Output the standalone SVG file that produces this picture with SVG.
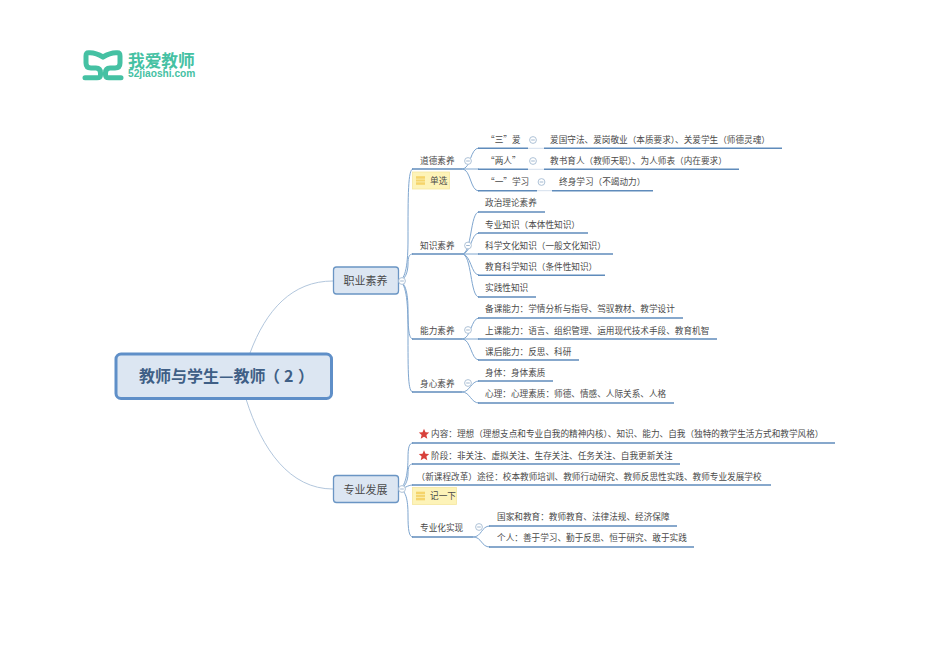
<svg xmlns="http://www.w3.org/2000/svg" width="950" height="672" viewBox="0 0 950 672">
<defs>
<g id="minus"><circle r="3.4" fill="#fff" stroke="#a5bbd3" stroke-width="0.9"/><path d="M-1.8 0H1.8" stroke="#8aa6c4" stroke-width="0.8"/></g>
<g id="noteicon"><rect x="-4.500" y="-4.300" width="9" height="8.600" fill="#f5d46a"/><path d="M-4.500 -1.400H4.500M-4.500 1.400H4.500" stroke="#fbeeb0" stroke-width="0.9"/></g>
<path id="star" d="M0-5.200 1.500-1.700 5.200-1.400 2.400 1 3.300 4.700 0 2.700-3.300 4.700-2.400 1-5.200-1.400-1.500-1.700Z" fill="#d8413b"/>
</defs>
<style>
text{font-family:"Noto Sans CJK SC","Liberation Sans",sans-serif;fill:#4a4a4a;font-size:8.650px;dominant-baseline:central;transform:translateY(-0.8px)}
.u{fill:none;stroke:#5f8bbb;stroke-width:1.500}
.b{fill:none;stroke:#7fa6cf;stroke-width:1}
.r{fill:none;stroke:#a9c0d8;stroke-width:0.900}
.p{fill:none;stroke:#c8d7e7;stroke-width:0.800}
.top{fill:#dce6f2;stroke:#6a95c4;stroke-width:1.300}
.note{fill:#fdf3b8;stroke:#f5e79e;stroke-width:0.800}
</style>
<rect width="950" height="672" fill="#fff"/>
<g id="logo">
<path d="M103 57C98 54 94 52.800 90 52.800H88.500C86.500 52.800 86 54 86 56V63C86 66.500 87.500 68 91 68H96C99.500 68 100.500 70 100.500 73V75C100.500 77 99.500 77.800 97 77.800H85M103 57C108 54 112 52.800 116 52.800H117.500C119.500 52.800 120 54 120 56V63C120 66.500 118.500 68 115 68H110C106.500 68 105.500 70 105.500 73V75C105.500 77 106.500 77.800 109 77.800H121" fill="none" stroke="#45c1a3" stroke-width="5" stroke-linecap="round" stroke-linejoin="round"/>
<text x="128" y="60.500" style="font-size:16.700px;font-weight:700;fill:#45c1a3">我爱教师</text>
<text x="128" y="74.800" style="font-family:'Liberation Sans',sans-serif;font-size:10.200px;font-weight:700;fill:#45c1a3">52jiaoshi.com</text>
</g>
<g id="connectors">
<path class="r" d="M250 353C266 310 292 281 333 281"/>
<path class="r" d="M246 399C262 450 290 489 333 489"/>
<path class="b" d="M398 281C406 281 408 262 408 240C408 195 408 169 413 169"/>
<path class="b" d="M398 281C405 281 408 272 408 264C408 257 409 254 413 254"/>
<path class="b" d="M398 281C405 281 408 292 408 310C408 330 409 339 413 339"/>
<path class="b" d="M398 281C406 281 408 300 408 330C408 375 408 392 413 392"/>
<path class="b" d="M398 489C406 489 408 470 408 458C408 448 409 443 413 443"/>
<path class="b" d="M398 489C405 489 408 480 408 474C408 467 409 464 413 464"/>
<path class="b" d="M398 489C405 489 407 485 413 485"/>
<path class="b" d="M398 489C406 489 408 500 408 515C408 530 409 537 413 537"/>
<path class="b" d="M462 169C471 169 470 148 479 148"/><path class="b" d="M462 169H479"/><path class="b" d="M462 169C471 169 470 191 479 191"/>
<path class="b" d="M462 254C472 254 470 212 479 212"/><path class="b" d="M462 254C471 254 471 233 479 233"/><path class="b" d="M462 254H479"/><path class="b" d="M462 254C471 254 471 275 479 275"/><path class="b" d="M462 254C472 254 470 297 479 297"/>
<path class="b" d="M462 339C471 339 471 318 479 318"/><path class="b" d="M462 339H479"/><path class="b" d="M462 339C471 339 471 360 479 360"/>
<path class="b" d="M462 392C470 392 471 381 479 381"/><path class="b" d="M462 392C470 392 471 403 479 403"/>
<path class="b" d="M473 537C482 537 481 526 490 526"/><path class="b" d="M473 537C482 537 481 547 490 547"/>
<path class="p" d="M528 148.300H544M528 169.300H544M537 190.700H552"/>
</g>
<g id="root"><rect x="116" y="354" width="215.500" height="44.500" rx="5" fill="#dce6f2" stroke="#5f8fc8" stroke-width="3"/><text y="376" style="font-size:16px;font-weight:700;fill:#3f5f86"><tspan x="139">教师与学生—教师</tspan><tspan x="264">（</tspan><tspan x="284">2</tspan><tspan x="298">）</tspan></text></g>
<g id="n-zhiye"><rect class="top" x="333.500" y="267" width="65" height="27" rx="3"/><text x="365.500" y="281" text-anchor="middle" style="font-size:11px">职业素养</text><use href="#minus" x="402" y="281"/></g>
<g id="n-zhuanye"><rect class="top" x="333.500" y="475.500" width="65" height="27" rx="3"/><text x="365.500" y="489.500" text-anchor="middle" style="font-size:11px">专业发展</text><use href="#minus" x="402" y="489"/></g>
<g id="n-daode"><path class="u" d="M412 169H462"/><text x="420" y="160.500">道德素养</text><use href="#minus" x="468" y="161"/></g>
<g id="note-danxuan"><rect class="note" x="412.500" y="172" width="37" height="17"/><use href="#noteicon" x="420.500" y="180.500"/><text x="430" y="180.500">单选</text></g>
<g id="n-san"><path class="u" d="M478 148.300H528"/><text x="486" y="139.500">“三”爱</text><use href="#minus" x="533" y="140"/></g>
<g id="n-san-1"><path class="u" d="M544 148.300H782"/><text x="550" y="139.500">爱国守法、爱岗敬业（本质要求）、关爱学生（师德灵魂）</text></g>
<g id="n-liang"><path class="u" d="M478 169.300H528"/><text x="486" y="160.500">“两人”</text><use href="#minus" x="533" y="161"/></g>
<g id="n-liang-1"><path class="u" d="M544 169.300H739"/><text x="550" y="160.500">教书育人（教师天职）、为人师表（内在要求）</text></g>
<g id="n-yi"><path class="u" d="M478 190.700H537"/><text x="486" y="182">“一”学习</text><use href="#minus" x="541.500" y="182"/></g>
<g id="n-yi-1"><path class="u" d="M552 190.700H653"/><text x="559" y="182">终身学习（不竭动力）</text></g>
<g id="n-zhishi"><path class="u" d="M412 254H462"/><text x="420" y="245.500">知识素养</text><use href="#minus" x="468" y="245.500"/></g>
<g id="n-zz"><path class="u" d="M478 212H545"/><text x="485" y="203">政治理论素养</text></g>
<g id="n-zy"><path class="u" d="M478 233H588"/><text x="485" y="224.500">专业知识（本体性知识）</text></g>
<g id="n-kx"><path class="u" d="M478 254H613"/><text x="485" y="245.500">科学文化知识（一般文化知识）</text></g>
<g id="n-jy"><path class="u" d="M478 275.300H605"/><text x="485" y="267">教育科学知识（条件性知识）</text></g>
<g id="n-sj"><path class="u" d="M478 297H536"/><text x="485" y="288">实践性知识</text></g>
<g id="n-nengli"><path class="u" d="M412 339H462"/><text x="420" y="330.500">能力素养</text><use href="#minus" x="468" y="330"/></g>
<g id="n-bk"><path class="u" d="M478 318H683"/><text x="485" y="309">备课能力：学情分析与指导、驾驭教材、教学设计</text></g>
<g id="n-sk"><path class="u" d="M478 339H717"/><text x="485" y="330.500">上课能力：语言、组织管理、运用现代技术手段、教育机智</text></g>
<g id="n-kh"><path class="u" d="M478 360H579"/><text x="485" y="351.500">课后能力：反思、科研</text></g>
<g id="n-shenxin"><path class="u" d="M412 392H462"/><text x="420" y="383.500">身心素养</text><use href="#minus" x="468" y="383"/></g>
<g id="n-st"><path class="u" d="M478 381H553"/><text x="485" y="372.500">身体：身体素质</text></g>
<g id="n-xl"><path class="u" d="M478 403H674"/><text x="485" y="394">心理：心理素质：师德、情感、人际关系、人格</text></g>
<g id="n-nr"><path class="u" d="M412 443H835"/><use href="#star" x="424" y="434"/><text x="431" y="434">内容：理想（理想支点和专业自我的精神内核）、知识、能力、自我（独特的教学生活方式和教学风格）</text></g>
<g id="n-jd"><path class="u" d="M412 464H680"/><use href="#star" x="424" y="455.500"/><text x="431" y="455.500">阶段：非关注、虚拟关注、生存关注、任务关注、自我更新关注</text></g>
<g id="n-tj"><path class="u" d="M412 485H771"/><text x="416.500" y="477">（新课程改革）途径：校本教师培训、教师行动研究、教师反思性实践、教师专业发展学校</text></g>
<g id="note-jiyixia"><rect class="note" x="412.500" y="487.500" width="44" height="17"/><use href="#noteicon" x="420.500" y="496"/><text x="430" y="496">记一下</text></g>
<g id="n-zyh"><path class="u" d="M412 537H473"/><text x="420" y="527.500">专业化实现</text><use href="#minus" x="479" y="527"/></g>
<g id="n-gj"><path class="u" d="M489 526H677"/><text x="497" y="517">国家和教育：教师教育、法律法规、经济保障</text></g>
<g id="n-gr"><path class="u" d="M489 547H694"/><text x="497" y="538">个人：善于学习、勤于反思、恒于研究、敢于实践</text></g>
</svg>
